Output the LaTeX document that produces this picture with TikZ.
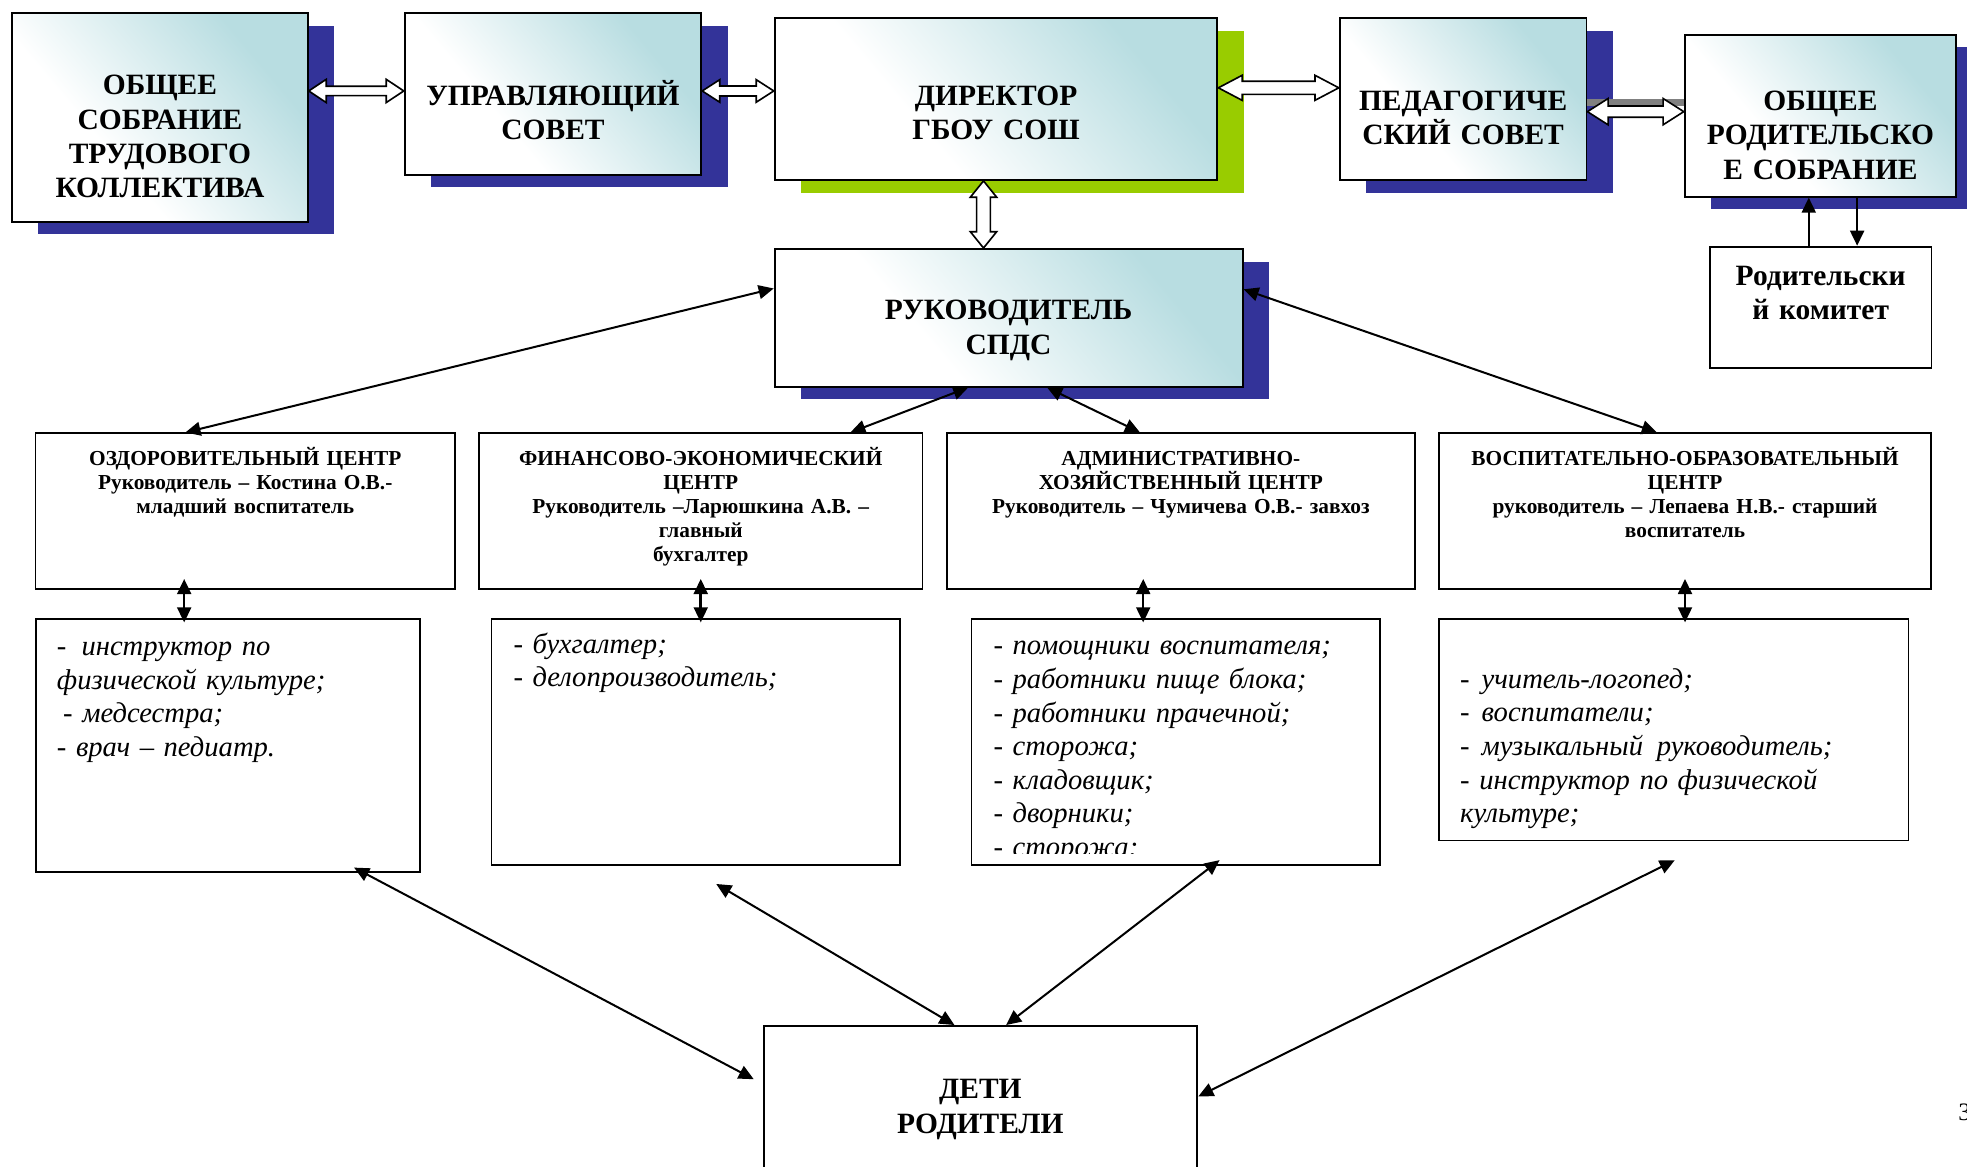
\documentclass[tikz,border=0pt]{standalone}
\usepackage{fontspec}
\setmainfont{Liberation Serif}
\usetikzlibrary{calc,arrows.meta,shadows}
\definecolor{sblue}{HTML}{333399}
\definecolor{sgreen}{HTML}{99CC00}
\definecolor{tealc}{HTML}{B8DDE1}
\definecolor{bargray}{HTML}{808080}
\pgfdeclarehorizontalshading{boxshade}{100bp}{color(0bp)=(white); color(25bp)=(white); color(38bp)=(white); color(72bp)=(tealc); color(100bp)=(tealc)}
\newcommand{\hollowarr}[5]{%
  \draw[hollow] (#1) -- ($(#1)!#3!(#2)!#4!90:(#2)$) -- ($(#1)!#3!(#2)!#5!90:(#2)$)
   -- ($(#2)!#3!(#1)!#5!-90:(#1)$) -- ($(#2)!#3!(#1)!#4!-90:(#1)$) -- (#2)
   -- ($(#2)!#3!(#1)!#4!90:(#1)$) -- ($(#2)!#3!(#1)!#5!90:(#1)$)
   -- ($(#1)!#3!(#2)!#5!-90:(#2)$) -- ($(#1)!#3!(#2)!#4!-90:(#2)$) -- cycle;}
\begin{document}
\begin{tikzpicture}[x=1pt,y=-1pt,
  topbox/.style={draw, line width=1.5pt, shade, shading=boxshade, shading angle=40, inner sep=0pt},
  bshadow/.style={drop shadow={shadow xshift=21pt, shadow yshift=-10pt, fill=sblue, opacity=1}},
  gshadow/.style={drop shadow={shadow xshift=21pt, shadow yshift=-10pt, fill=sgreen, opacity=1}},
  plainbox/.style={draw, line width=1.4pt, fill=white, inner sep=0pt},
  bigtxt/.style={font=\fontsize{23.5}{27.2}\selectfont\bfseries, align=center, text width=400pt, anchor=base, inner sep=0pt},
  ctrtxt/.style={font=\fontsize{17}{19.3}\selectfont\bfseries, align=center, text width=420pt, anchor=base, inner sep=0pt},
  listtxt/.style={font=\fontsize{22.8}{26.8}\selectfont\itshape, align=left, text width=380pt, anchor=base west, inner sep=0pt},
  conn/.style={line width=1.6pt, {Triangle[length=12pt,width=11pt]}-{Triangle[length=12pt,width=11pt]}},
  vconn/.style={line width=2pt, {Triangle[length=12pt,width=11pt]}-{Triangle[length=12pt,width=11pt]}},
  oneway/.style={line width=2pt, -{Triangle[length=12pt,width=11pt]}},
  hollow/.style={draw, fill=white, line width=1.3pt, line join=miter},
]
\useasboundingbox (0,0) rectangle (1568,930);
\clip (0,0) rectangle (1568,930);

% top row
\node[topbox, bshadow, minimum width=235.7pt, minimum height=166.1pt] (b1) at (127.5,93.6) {};
\node[topbox, bshadow, minimum width=236.4pt, minimum height=128.9pt] (b2) at (440.8,75) {};
\node[topbox, gshadow, minimum width=352.9pt, minimum height=128.9pt] (b3) at (794,79) {};
\node[topbox, bshadow, minimum width=196.7pt, minimum height=128.9pt] (b4) at (1166.3,79) {};
\node[topbox, bshadow, minimum width=216.5pt, minimum height=128.9pt] (b5) at (1451.2,92.3) {};
\node[plainbox, minimum width=176.8pt, minimum height=97pt] (b6) at (1451.3,245.1) {};
\node[topbox, bshadow, minimum width=373pt, minimum height=109.7pt] (b7) at (804,253.3) {};

\node[bigtxt] (t1) at (127.5,75.7) {ОБЩЕЕ\\СОБРАНИЕ\\ТРУДОВОГО\\КОЛЛЕКТИВА};
\node[bigtxt] (t2) at (440.8,83.7) {УПРАВЛЯЮЩИЙ\\СОВЕТ};
\node[bigtxt] (t3) at (794,83.7) {ДИРЕКТОР\\ГБОУ СОШ};
\node[bigtxt] (t4) at (1166.3,87.7) {ПЕДАГОГИЧЕ\\СКИЙ СОВЕТ};
\node[bigtxt, font=\fontsize{23.5}{27.5}\selectfont\bfseries] (t5) at (1451.2,87.7) {ОБЩЕЕ\\РОДИТЕЛЬСКО\\Е СОБРАНИЕ};
\node[bigtxt, font=\fontsize{23.5}{27.8}\selectfont\bfseries] (t6) at (1451.3,227.2) {Родительски\\й комитет};
\node[bigtxt] (t7) at (804,255) {РУКОВОДИТЕЛЬ\\СПДС};

% hollow arrows
\fill[bargray] (b4.east) rectangle ($(b5.west |- b4.east)+(0,5.5)$);
\coordinate (h1b) at ($(b2.west)+(0,-2.5)$);
\coordinate (h1a) at (b1.east |- h1b);
\hollowarr{h1a}{h1b}{14pt}{9.3pt}{3.7pt}
\coordinate (h2a) at ($(b2.east)+(0,-2.5)$);
\coordinate (h2b) at (b3.west |- h2a);
\hollowarr{h2a}{h2b}{14pt}{9pt}{4pt}
\coordinate (h3a) at ($(b3.east)+(0,-9)$);
\coordinate (h3b) at (b4.west |- h3a);
\hollowarr{h3a}{h3b}{19pt}{10pt}{5.2pt}
\coordinate (h4b) at ($(b5.west)+(0,-3.3)$);
\coordinate (h4a) at (b4.east |- h4b);
\hollowarr{h4a}{h4b}{16.5pt}{10.5pt}{4.5pt}
\coordinate (h5a) at ($(b3.south)+(-10,0)$);
\coordinate (h5b) at (h5a |- b7.north);
\hollowarr{h5a}{h5b}{13pt}{10.5pt}{5.5pt}

% parents committee arrows
\coordinate (u1) at ($(b6.north west)!0.447!(b6.north east)$);
\draw[oneway] (u1) -- (u1 |- b5.south);
\coordinate (u2) at ($(b5.south west)!0.634!(b5.south east)$);
\draw[oneway] (u2) -- (u2 |- b6.north);

% centers
\node[plainbox, minimum width=334.3pt, minimum height=124.4pt] (c1) at (195.5,407.6) {};
\node[plainbox, minimum width=353.7pt, minimum height=124.4pt] (c2) at (558.6,407.6) {};
\node[plainbox, minimum width=373.4pt, minimum height=124.4pt] (c3) at (941.3,407.6) {};
\node[plainbox, minimum width=392.1pt, minimum height=124.4pt] (c4) at (1343.2,407.6) {};

\node[ctrtxt] (tc1) at (195.5,370.7) {ОЗДОРОВИТЕЛЬНЫЙ ЦЕНТР\\Руководитель – Костина О.В.-\\младший воспитатель};
\node[ctrtxt] (tc2) at (558.6,370.7) {ФИНАНСОВО-ЭКОНОМИЧЕСКИЙ\\ЦЕНТР\\Руководитель –Ларюшкина А.В. –\\главный\\бухгалтер};
\node[ctrtxt] (tc3) at (941.3,370.7) {АДМИНИСТРАТИВНО-\\ХОЗЯЙСТВЕННЫЙ ЦЕНТР\\Руководитель – Чумичева О.В.- завхоз};
\node[ctrtxt] (tc4) at (1343.2,370.7) {ВОСПИТАТЕЛЬНО-ОБРАЗОВАТЕЛЬНЫЙ\\ЦЕНТР\\руководитель – Лепаева Н.В.- старший\\воспитатель};

% lists
\node[plainbox, minimum width=306.4pt, minimum height=202pt] (l1) at (181.6,594.4) {};
\node[plainbox, minimum width=325.5pt, minimum height=196.1pt] (l2) at (554.6,591.4) {};
\node[plainbox, minimum width=325.5pt, minimum height=196.1pt] (l3) at (937.2,591.4) {};
\node[plainbox, minimum width=374.1pt, minimum height=176.7pt] (l4) at (1334.2,581.7) {};

\node[listtxt] (tl1) at (45.2,522.7) {-\hspace*{12pt}инструктор по\\физической культуре;\\\hspace*{5pt}- медсестра;\\- врач – педиатр.};
\node[listtxt] (tl2) at (409.2,520.8) {- бухгалтер;\\- делопроизводитель;};
\begin{scope}
\clip (l3.north west) rectangle ($(l3.south east)+(0,-9.5)$);
\node[listtxt] (tl3) at (791.8,522) {- помощники воспитателя;\\- работники пище блока;\\- работники прачечной;\\- сторожа;\\- кладовщик;\\- дворники;\\- сторожа;};
\end{scope}
\node[listtxt] (tl4) at (1163.8,548.7) {-\hspace*{9.5pt}учитель-логопед;\\-\hspace*{9.5pt}воспитатели;\\-\hspace*{9.5pt}музыкальный\hspace*{11pt}руководитель;\\- инструктор по физической\\культуре;};

% bottom box
\node[plainbox, minimum width=344.7pt, minimum height=132.2pt] (d) at (781.6,883.9) {};
\node[bigtxt, font=\fontsize{23.5}{27.9}\selectfont\bfseries] (td) at (781.5,875.5) {ДЕТИ\\РОДИТЕЛИ};

% connectors leader -> centers
\draw[conn] ($(b7.north west)!0.29!(b7.south west)$) -- ($(c1.north west)!0.358!(c1.north east)$);
\draw[conn] ($(b7.south west)!0.414!(b7.south east)$) -- ($(c2.north west)!0.836!(c2.north east)$);
\draw[conn] ($(b7.south west)!0.582!(b7.south east)$) -- ($(c3.north west)!0.413!(c3.north east)$);
\draw[conn] ($(b7.north east)!0.296!(b7.south east)$) -- ($(c4.north west)!0.443!(c4.north east)$);

% centers -> lists
\coordinate (v1) at ($(c1.south west)!0.355!(c1.south east)$);
\draw[vconn, shorten <=-9pt, shorten >=-3.5pt] (v1) -- (v1 |- l1.north);
\coordinate (v2) at (c2.south);
\draw[vconn, shorten <=-9pt, shorten >=-3.5pt] (v2) -- (v2 |- l2.north);
\coordinate (v3) at ($(c3.south west)!0.42!(c3.south east)$);
\draw[vconn, shorten <=-9pt, shorten >=-3.5pt] (v3) -- (v3 |- l3.north);
\coordinate (v4) at (c4.south);
\draw[vconn, shorten <=-9pt, shorten >=-3.5pt] (v4) -- (v4 |- l4.north);

% lists -> children/parents
\draw[conn] ($(l1.south west)!0.827!(l1.south east)+(0,-4.5)$) -- ($(d.north west)+(-7.7,43.2)$);
\draw[conn] ($(l2.south west)!0.55!(l2.south east)+(0,14.5)$) -- ($(d.north west)!0.44!(d.north east)$);
\draw[conn] ($(l3.south west)!0.607!(l3.south east)+(0,-4.5)$) -- ($(d.north west)!0.559!(d.north east)$);
\draw[conn] ($(l4.south)+(0.8,15)$) -- ($(d.north east)+(0.6,56.9)$);

% page number
\node[anchor=base west, inner sep=0pt, font=\fontsize{20}{24}\selectfont] (pg) at (1561,893) {3};
\end{tikzpicture}
\end{document}
